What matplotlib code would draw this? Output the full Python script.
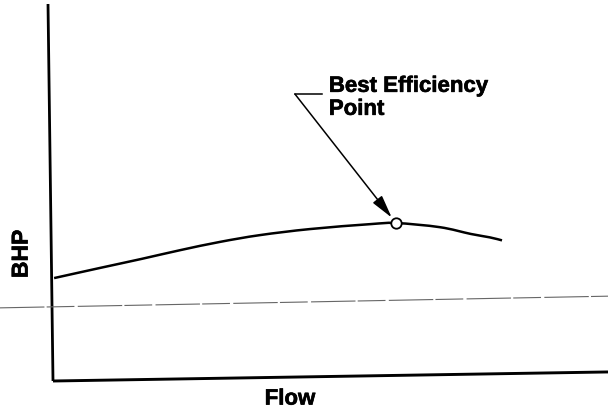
import matplotlib
matplotlib.use("Agg")
import matplotlib.pyplot as plt
from matplotlib.path import Path
from matplotlib.patches import PathPatch
import matplotlib.patheffects as pe

# Data (flow and BHP in relative units, 0-100 scale of the plot area)
flow = [0.2, 8.5, 16.0, 22.9, 30.1, 37.3, 46.3, 57.1, 61.8, 69.7, 75.3, 78.7, 80.9]
bhp = [27.3, 30.0, 32.4, 34.7, 36.9, 38.7, 40.3, 41.6, 41.9, 40.8, 39.0, 38.1, 37.3]
bep_flow = 61.8
bep_bhp = 41.9
x_label = "Flow"
y_label = "BHP"
bep_label_line1 = "Best Efficiency"
bep_label_line2 = "Point"

W, H = 608, 410
fig = plt.figure(figsize=(W / 100, H / 100), dpi=100)
fig.patch.set_facecolor("white")
ax = fig.add_axes([53 / W, (H - 382) / H, 555 / W, 377 / H])
ax.set_xlim(0, 100)
ax.set_ylim(0, 100)
ax.axis("off")

font = ["Liberation Sans", "DejaVu Sans"]
bold_fx = [pe.withStroke(linewidth=0.45, foreground="black")]

# slightly tilted axis lines (as in the scanned original)
ax.plot([-0.009, 0.0], [1.0, 0.0], transform=ax.transAxes, color="black",
        lw=2.0, clip_on=False, solid_capstyle="butt")
ax.plot([0.0, 1.0], [0.0, 0.024], transform=ax.transAxes, color="black",
        lw=2.1, clip_on=False, solid_capstyle="butt")

# faint scan line
ax.plot([-0.0955, 1.0], [0.194, 0.225], transform=ax.transAxes, color="#666666",
        lw=0.8, clip_on=False, linestyle=(0, (40, 2, 25, 3)))

# BHP curve: smooth path (Catmull-Rom -> cubic Bezier) through the read points
verts = [(flow[0], bhp[0])]
codes = [Path.MOVETO]
n = len(flow)
for i in range(n - 1):
    p0 = (flow[max(i - 1, 0)], bhp[max(i - 1, 0)])
    p1 = (flow[i], bhp[i])
    p2 = (flow[i + 1], bhp[i + 1])
    p3 = (flow[min(i + 2, n - 1)], bhp[min(i + 2, n - 1)])
    c1 = (p1[0] + (p2[0] - p0[0]) / 6, p1[1] + (p2[1] - p0[1]) / 6)
    c2 = (p2[0] - (p3[0] - p1[0]) / 6, p2[1] - (p3[1] - p1[1]) / 6)
    verts += [c1, c2, p2]
    codes += [Path.CURVE4] * 3
ax.add_patch(PathPatch(Path(verts, codes), facecolor="none", edgecolor="black",
                       lw=1.8, capstyle="butt"))

# best efficiency point
ax.plot([bep_flow], [bep_bhp], marker="o", markersize=7.5, markerfacecolor="white",
        markeredgecolor="black", markeredgewidth=1.3, zorder=5)

# leader with kink
ax.plot([0.436, 0.485], [0.761, 0.761], transform=ax.transAxes, color="black", lw=1.1)
ax.annotate("", xy=(bep_flow, bep_bhp), xycoords="data",
            xytext=(0.436, 0.761), textcoords="axes fraction",
            arrowprops=dict(arrowstyle="-|>,head_length=1.0,head_width=0.25",
                            color="black", lw=1.1, shrinkA=0, shrinkB=5,
                            mutation_scale=14))

ax.text(0.497, 0.767, bep_label_line1, transform=ax.transAxes, ha="left", va="baseline",
        fontsize=16, fontweight="bold", family=font, path_effects=bold_fx)
ax.text(0.497, 0.706, bep_label_line2, transform=ax.transAxes, ha="left", va="baseline",
        fontsize=16, fontweight="bold", family=font, path_effects=bold_fx)

ax.text(-0.0575, 0.337, y_label, transform=ax.transAxes, ha="center", va="center",
        rotation=90, fontsize=16.5, fontweight="bold", family=font, path_effects=bold_fx)
ax.text(0.427, -0.048, x_label, transform=ax.transAxes, ha="center", va="center",
        fontsize=16, fontweight="bold", family=font, path_effects=bold_fx)

fig.savefig("out.png", dpi=100, facecolor="white")
